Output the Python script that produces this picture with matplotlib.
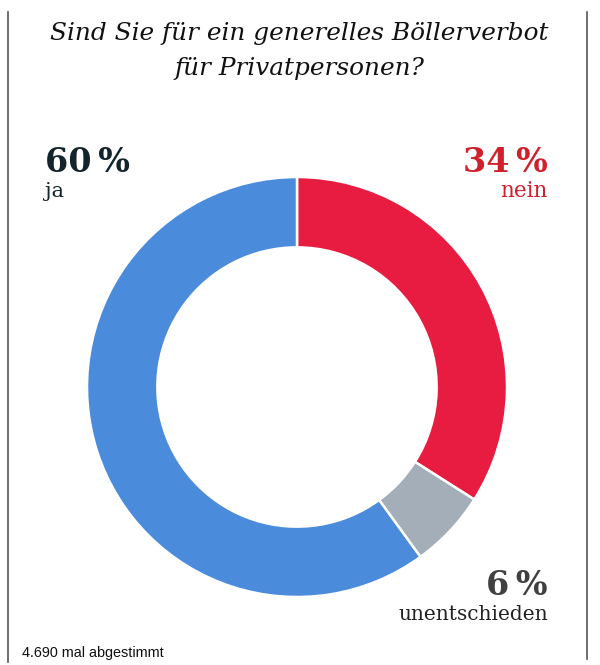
import matplotlib
matplotlib.use("Agg")
import matplotlib.pyplot as plt
from matplotlib.lines import Line2D

title_lines = ["Sind Sie für ein generelles Böllerverbot", "für Privatpersonen?"]
labels = ["nein", "unentschieden", "ja"]
values = [34, 6, 60]
colors = ["#E81B40", "#A3AEB8", "#4A8BDB"]
pct_labels = ["34\u2009%", "6\u2009%", "60\u2009%"]
footnote = "4.690 mal abgestimmt"

W, H = 600, 665
fig = plt.figure(figsize=(W / 100, H / 100), dpi=100)
fig.patch.set_facecolor("white")

def fx(px):
    return px / W

def fy(py):
    return 1 - py / H

# side rules
fig.add_artist(Line2D([fx(8), fx(8)], [fy(12), fy(662)], color="#555555", lw=1.2))
fig.add_artist(Line2D([fx(587), fx(587)], [fy(12), fy(659)], color="#555555", lw=1.2))

# donut
cx, cy, r = 297, 387, 210
ax = fig.add_axes([fx(cx - r), fy(cy + r), 2 * r / W, 2 * r / H])
ax.pie(values, colors=colors, startangle=90, counterclock=False, radius=1.0,
       wedgeprops=dict(width=0.335, edgecolor="white", linewidth=1.8))
ax.set_xlim(-1.0, 1.0)
ax.set_ylim(-1.0, 1.0)
ax.set_aspect("equal")
ax.axis("off")

serif = "DejaVu Serif"
# title
fig.text(fx(299), fy(40), title_lines[0], ha="center", va="baseline",
         family=serif, style="italic", fontsize=17.8, color="#111111")
fig.text(fx(299), fy(75), title_lines[1], ha="center", va="baseline",
         family=serif, style="italic", fontsize=17.8, color="#111111")

# labels
fig.text(fx(45), fy(172), pct_labels[2], ha="left", va="baseline", family=serif,
         weight="bold", fontsize=24, color="#14242C")
fig.text(fx(45), fy(197), labels[2], ha="left", va="baseline", family=serif,
         fontsize=15, color="#14242C")
fig.text(fx(548), fy(172), pct_labels[0], ha="right", va="baseline", family=serif,
         weight="bold", fontsize=24, color="#D0202C")
fig.text(fx(548), fy(197), labels[0], ha="right", va="baseline", family=serif,
         fontsize=15.5, color="#D0202C")
fig.text(fx(548), fy(595), pct_labels[1], ha="right", va="baseline", family=serif,
         weight="bold", fontsize=24, color="#404040")
fig.text(fx(548), fy(620), labels[1], ha="right", va="baseline", family=serif,
         fontsize=14.5, color="#222222")

fig.text(fx(22), fy(657), footnote, ha="left", va="baseline",
         family="Liberation Sans", fontsize=10.4, color="#111111")

fig.savefig("out.png", dpi=100, facecolor="white")
